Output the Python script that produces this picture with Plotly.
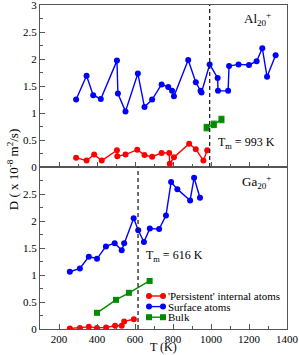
import plotly.graph_objects as go

# ---------------- data ----------------
# Al20+ (upper panel)
al_surf_T = [290, 345, 380, 420, 505, 510, 550, 615, 650, 690, 740, 775, 795, 805,
             880, 920, 945, 950, 993, 1035, 1037, 1090, 1095, 1145, 1200, 1240, 1270, 1295, 1340]
al_surf_D = [1.25, 1.69, 1.33, 1.26, 1.97, 1.36, 1.03, 1.73, 1.11, 1.25, 1.53, 1.48, 1.41, 1.31,
             1.98, 1.57, 1.41, 1.38, 1.90, 1.65, 1.41, 1.41, 1.87, 1.90, 1.89, 1.96, 2.20, 1.67, 2.07]
al_pers_T = [290, 345, 385, 425, 505, 507, 550, 612, 650, 690, 740, 780, 783, 805, 885, 920, 960, 980]
al_pers_D = [0.17, 0.12, 0.23, 0.12, 0.31, 0.20, 0.23, 0.32, 0.22, 0.19, 0.26, 0.26, 0.06, 0.18,
             0.43, 0.33, 0.12, 0.31]
al_bulk_T = [977, 1015, 1055]
al_bulk_D = [0.73, 0.79, 0.88]
al_bulk_err = [0.06, 0.06, 0.06]
al_Tm = 993

# Ga20+ (lower panel)
ga_surf_T = [257, 310, 357, 400, 447, 493, 530, 543, 593, 617, 647, 678, 727, 763, 790, 823, 890, 911, 942]
ga_surf_D = [1.06, 1.12, 1.34, 1.30, 1.53, 1.59, 1.46, 1.59, 2.05, 1.83, 1.61, 1.86, 1.85, 2.10,
             2.72, 2.59, 2.38, 2.80, 2.43]
ga_pers_T = [257, 310, 357, 400, 448, 495, 530, 543, 594]
ga_pers_D = [0.01, 0.02, 0.04, 0.02, 0.03, 0.06, 0.06, 0.14, 0.18]
ga_bulk_T = [400, 500, 568, 677]
ga_bulk_D = [0.30, 0.54, 0.67, 0.89]
ga_Tm = 616

x_ticks = [200, 400, 600, 800, 1000, 1200, 1400]
y_ticks_top = [0, 0.5, 1, 1.5, 2, 2.5, 3]
y_ticks_bot = [0, 0.5, 1, 1.5, 2, 2.5]
y_labels = ["0", "0.5", "1", "1.5", "2", "2.5", "3"]

legend_names = ["'Persistent' internal atoms", "Surface atoms", "Bulk"]

# ---------------- style ----------------
BLUE = "#0000ff"
RED = "#ff0000"
GREEN = "#008b00"
AX = "#555555"
FONT = "Liberation Serif, Times New Roman, serif"
W, H = 299, 355
ML, MR, MT, MB = 40, 12, 5, 26
PW, PH = W - ML - MR, H - MT - MB

fig = go.Figure()

def series(x, y, color, symbol, xa, ya, err=None):
    tr = go.Scatter(x=x, y=y, mode="lines+markers", xaxis=xa, yaxis=ya,
                    line=dict(color=color, width=1.4),
                    marker=dict(color=color, size=6, symbol=symbol),
                    showlegend=False, hoverinfo="skip")
    if err is not None:
        tr.error_y = dict(type="data", array=err, visible=True, color=color,
                          thickness=1, width=3)
    fig.add_trace(tr)

# upper panel (Al)
series(al_surf_T, al_surf_D, BLUE, "circle", "x2", "y2")
series(al_pers_T, al_pers_D, RED, "circle", "x2", "y2")
series(al_bulk_T, al_bulk_D, GREEN, "square", "x2", "y2", err=al_bulk_err)
# lower panel (Ga)
series(ga_surf_T, ga_surf_D, BLUE, "circle", "x", "y")
series(ga_pers_T, ga_pers_D, RED, "circle", "x", "y")
series(ga_bulk_T, ga_bulk_D, GREEN, "square", "x", "y")

xcommon = dict(range=[100, 1400], tickvals=x_ticks, ticks="inside", ticklen=5,
               tickcolor=AX, showline=True, linecolor=AX, linewidth=1, mirror=True,
               showgrid=False, zeroline=False, automargin=False, ticklabeloverflow="allow",
               minor=dict(dtick=100, tick0=0, ticks="inside", ticklen=3, tickcolor=AX),
               tickfont=dict(family=FONT, size=11, color="black"))
ycommon = dict(range=[0, 3], ticks="inside", ticklen=5, tickcolor=AX, showline=True,
               linecolor=AX, linewidth=1, mirror=True, showgrid=False, zeroline=False,
               automargin=False, ticklabeloverflow="allow",
               minor=dict(dtick=0.25, tick0=0, ticks="inside", ticklen=3, tickcolor=AX),
               tickfont=dict(family=FONT, size=11, color="black"))

fig.update_layout(
    width=W, height=H, margin=dict(l=ML, r=MR, t=MT, b=MB, autoexpand=False),
    paper_bgcolor="white", plot_bgcolor="white", showlegend=False,
    xaxis=dict(**xcommon, anchor="y", domain=[0, 1]),
    yaxis=dict(**ycommon, anchor="x", domain=[0, 0.5], tickvals=y_ticks_bot,
               ticktext=y_labels[:len(y_ticks_bot)]),
    xaxis2=dict(**xcommon, anchor="y2", domain=[0, 1], showticklabels=False, matches="x"),
    yaxis2=dict(**ycommon, anchor="x2", domain=[0.5, 1], tickvals=y_ticks_top,
                ticktext=y_labels),
)

dash = "4px,3px"
fig.add_shape(type="line", xref="x2", yref="y2 domain", x0=al_Tm, x1=al_Tm, y0=0, y1=1,
              line=dict(color="#222222", width=1.3, dash=dash))
fig.add_shape(type="line", xref="x", yref="y domain", x0=ga_Tm, x1=ga_Tm, y0=0, y1=1,
              line=dict(color="#222222", width=1.3, dash=dash))

tfont = dict(family=FONT, size=12, color="black")
fig.add_annotation(xref="x2", yref="y2", x=1025, y=0.44, xanchor="left", yanchor="middle",
                   text=f"T<sub>m</sub> = {al_Tm} K", showarrow=False, font=tfont)
fig.add_annotation(xref="x", yref="y", x=648, y=1.35, xanchor="left", yanchor="middle",
                   text=f"T<sub>m</sub> = {ga_Tm} K", showarrow=False, font=tfont)
lfont = dict(family=FONT, size=13, color="black")
fig.add_annotation(xref="x2", yref="y2", x=1325, y=2.75, xanchor="right", yanchor="middle",
                   text="Al<sub>20</sub><sup>+</sup>", showarrow=False, font=lfont)
fig.add_annotation(xref="x", yref="y", x=1325, y=2.72, xanchor="right", yanchor="middle",
                   text="Ga<sub>20</sub><sup>+</sup>", showarrow=False, font=lfont)

# axis titles
fig.add_annotation(xref="paper", yref="paper", x=0.5, y=0, yanchor="top", yshift=-9,
                   text="T (K)", showarrow=False, font=dict(family=FONT, size=12, color="black"))
fig.add_annotation(xref="paper", yref="paper", x=0, y=0.49, xanchor="center", yanchor="middle",
                   xshift=-27, textangle=-90,
                   text="D ( x 10<sup>-8</sup> m<sup>2</sup>/s)", showarrow=False,
                   font=dict(family=FONT, size=13, color="black"))

# custom legend (paper coords derived from pixel layout)
leg_colors = [RED, BLUE, GREEN]
leg_symbols = ["circle", "circle", "square"]
def px2x(p):
    return (p - ML) / PW
def py2y(p):
    return (H - MB - p) / PH
lx0, lx1, ltext, ly0, lstep = 149, 163, 166, 296, 10.6
for i, (name, col, sym) in enumerate(zip(legend_names, leg_colors, leg_symbols)):
    yy = py2y(ly0 + i * lstep)
    fig.add_shape(type="line", xref="paper", yref="paper", x0=px2x(lx0), x1=px2x(lx1),
                  y0=yy, y1=yy, line=dict(color=col, width=1.4))
    for xe in (lx0, lx1):
        fig.add_shape(type="circle" if sym == "circle" else "rect",
                      xref="paper", yref="paper", xsizemode="pixel", ysizemode="pixel",
                      xanchor=px2x(xe), yanchor=yy, x0=-3, x1=3, y0=-3, y1=3,
                      fillcolor=col, line=dict(color=col, width=0))
    fig.add_annotation(xref="paper", yref="paper", x=px2x(ltext), y=yy, xanchor="left",
                       yanchor="middle", text=name, showarrow=False,
                       font=dict(family=FONT, size=11, color="black"))

fig.write_html("out.html", config={"displayModeBar": False},
               post_script="document.body.style.margin='0';document.body.style.overflow='hidden';")
